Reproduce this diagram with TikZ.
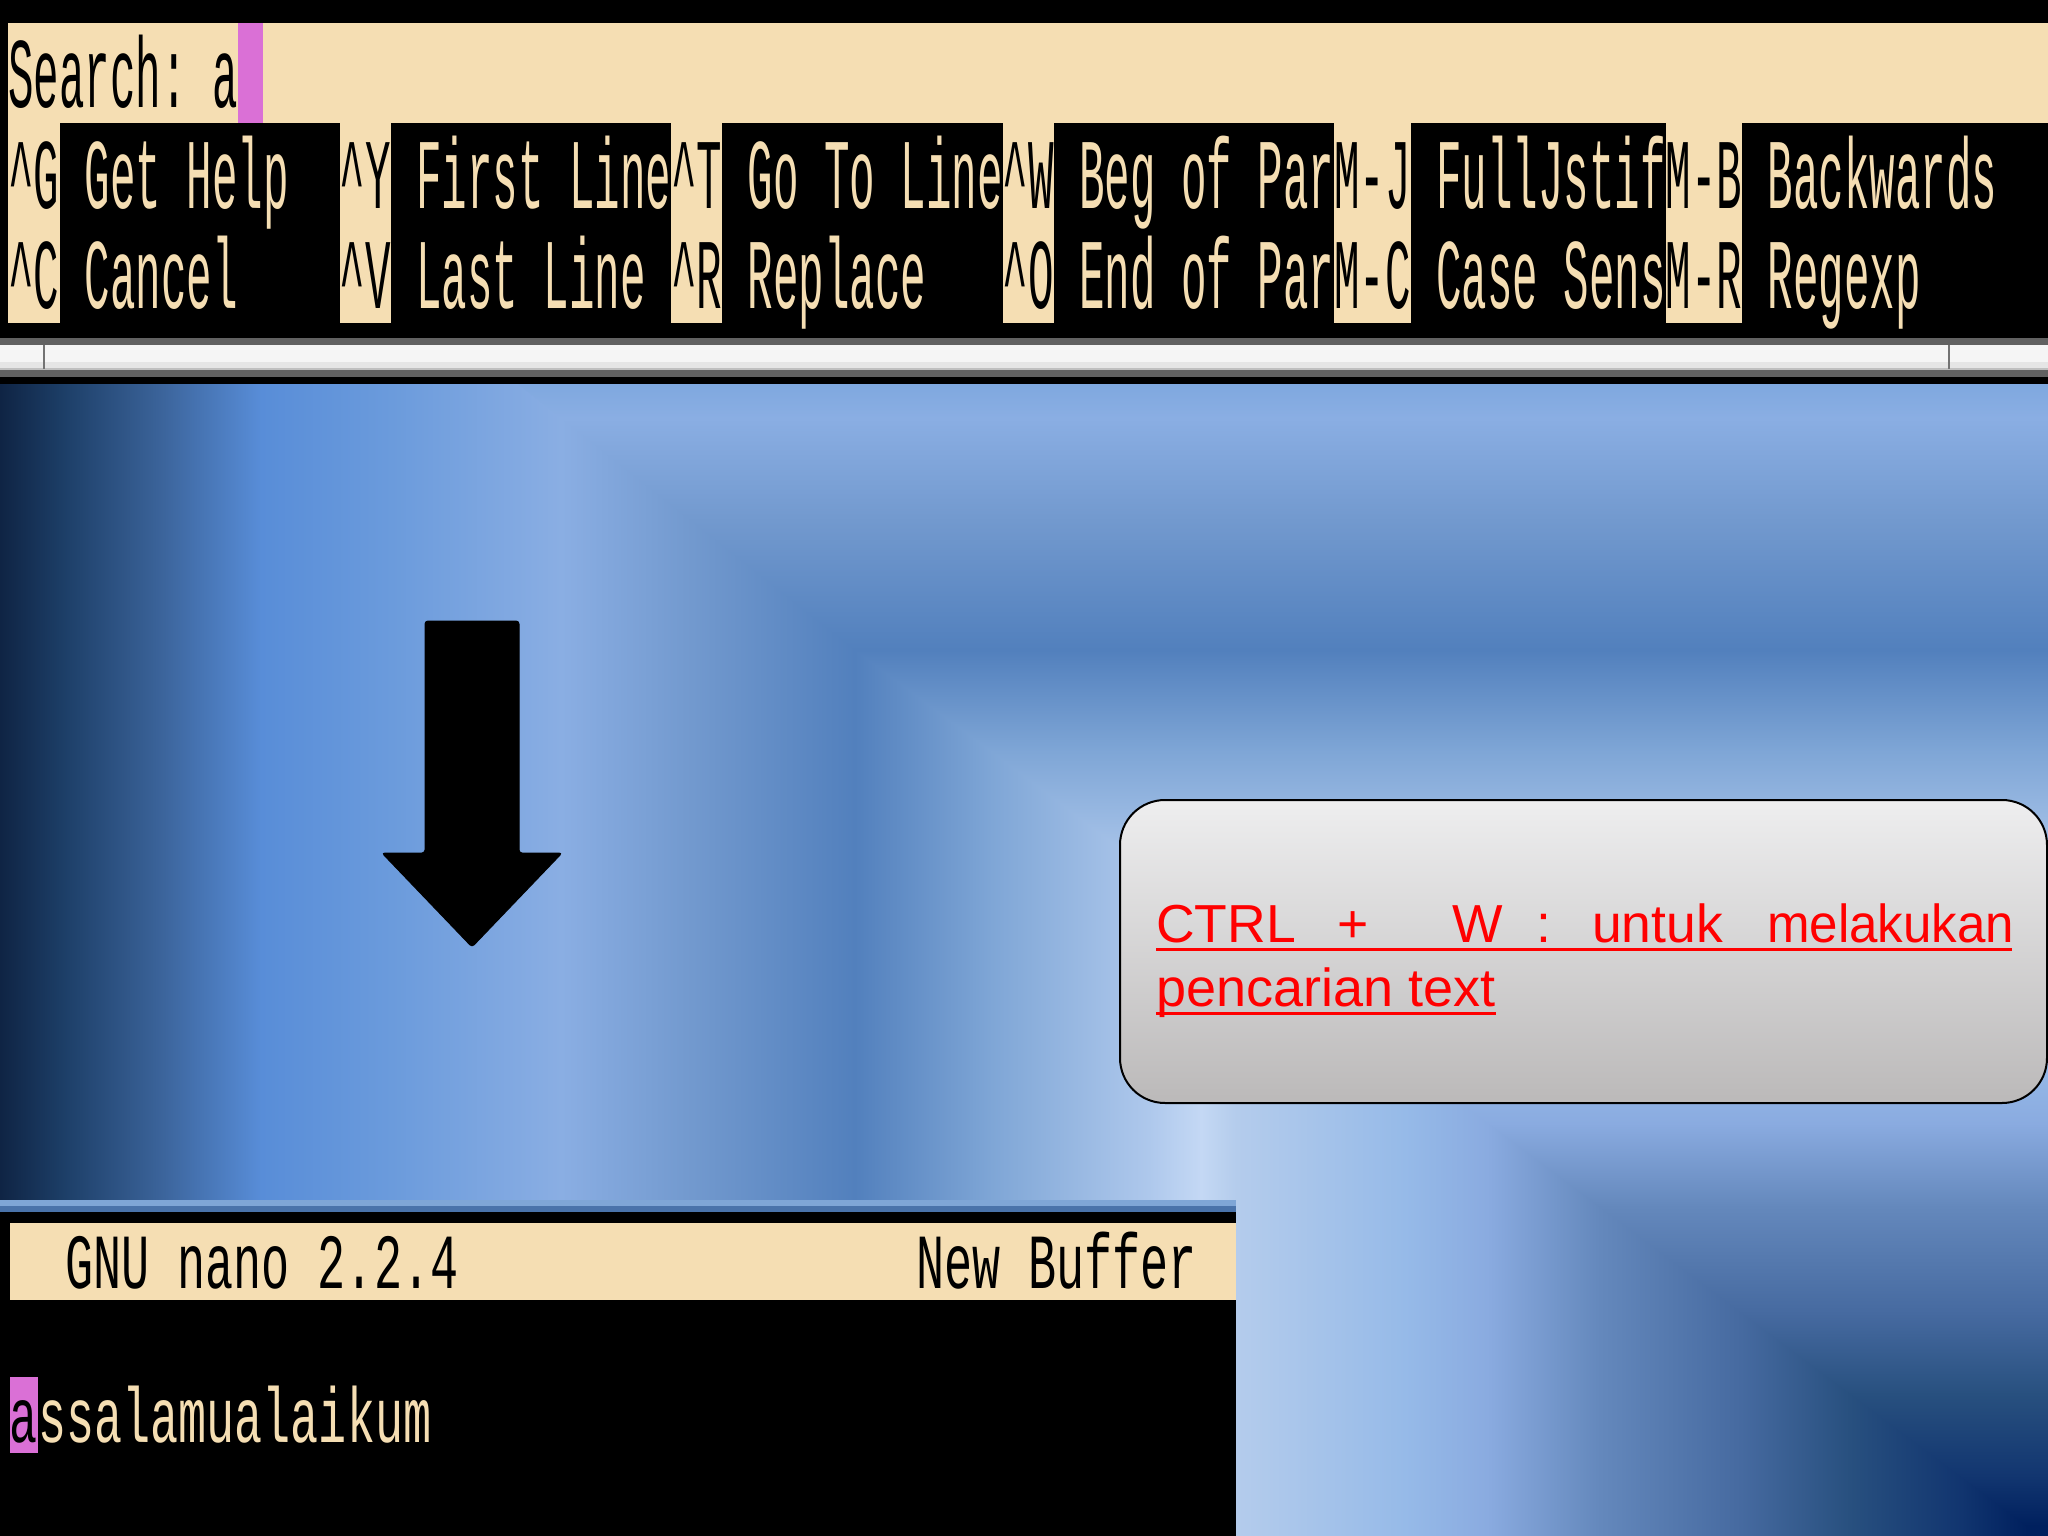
\documentclass[tikz,border=0pt]{standalone}
\usepackage{fontspec}
\usepackage{graphicx}
\newfontfamily\termfont{Liberation Mono}
\newfontfamily\notefont{Liberation Sans}
\definecolor{wheatc}{HTML}{F5DEB3}
\definecolor{orchidc}{HTML}{DA70D6}
\definecolor{notered}{HTML}{FF0000}
\definecolor{xa}{HTML}{0F2444}\definecolor{xb}{HTML}{1D3F68}\definecolor{xc}{HTML}{3A6298}
\definecolor{xd}{HTML}{588DD8}\definecolor{xe}{HTML}{6B9BDC}\definecolor{xf}{HTML}{8AAEE3}
\definecolor{xg}{HTML}{7299CE}\definecolor{xh}{HTML}{5280BD}\definecolor{xi}{HTML}{7FA6D6}
\definecolor{xj}{HTML}{AEC8EC}\definecolor{xk}{HTML}{C4D8F4}\definecolor{xl}{HTML}{B4CCEC}
\definecolor{xm}{HTML}{96BAE8}\definecolor{xn}{HTML}{8AABE0}\definecolor{xo}{HTML}{6488BC}
\definecolor{xp}{HTML}{466AA0}\definecolor{xq}{HTML}{28507F}\definecolor{xr}{HTML}{123670}
\definecolor{xs}{HTML}{00205E}
\definecolor{ya}{HTML}{7FA8DF}
\definecolor{boxtop}{HTML}{EEEEEF}\definecolor{boxbot}{HTML}{BBB9B9}
\pgfdeclarehorizontalshading{xband}{100bp}{color(0bp)=(xa);color(25bp)=(xa);color(26.59bp)=(xb);color(28.83bp)=(xc);color(31.37bp)=(xd);color(34.57bp)=(xe);color(38.70bp)=(xf);color(41.89bp)=(xg);color(45.87bp)=(xh);color(49.22bp)=(xi);color(53.05bp)=(xj);color(54.32bp)=(xk);color(55.18bp)=(xl);color(59.30bp)=(xm);color(61.30bp)=(xn);color(64.06bp)=(xo);color(67.50bp)=(xp);color(70.14bp)=(xq);color(72.78bp)=(xr);color(74.49bp)=(xs);color(100bp)=(xs)}
\pgfdeclareverticalshading{yband}{100bp}{color(0bp)=(xs);color(25bp)=(xs);color(25.33bp)=(xs);color(26.98bp)=(xr);color(29.62bp)=(xq);color(32.26bp)=(xp);color(35.71bp)=(xo);color(38.44bp)=(xn);color(40.46bp)=(xm);color(44.56bp)=(xl);color(45.41bp)=(xk);color(46.68bp)=(xj);color(50.52bp)=(xi);color(53.84bp)=(xh);color(58.04bp)=(xg);color(61.39bp)=(xf);color(62.50bp)=(ya);color(100bp)=(ya)}
\newcommand{\termbig}{\termfont\fontsize{100pt}{100pt}\selectfont\frenchspacing}
\newcommand{\termsmall}{\termfont\fontsize{78pt}{78pt}\selectfont\frenchspacing}
\newcommand{\notesize}{\notefont\fontsize{53.5pt}{60pt}\selectfont}
\tikzset{
  x=1pt,y=-1pt,
  bigterm/.style={anchor=base west,inner sep=0pt,font=\termbig,xscale=0.425},
  smallterm/.style={anchor=base west,inner sep=0pt,font=\termsmall,xscale=0.6},
  lighttxt/.style={text=wheatc},
  darktxt/.style={text=black},
  cream/.style={fill=wheatc,draw=none},
  cursorbox/.style={fill=orchidc,draw=none},
  notetxt/.style={anchor=base west,inner sep=0pt,font=\notesize,text=notered},
  noteline/.style={draw=notered,line width=2.8pt},
  bigarrow/.style={fill=black,draw=black,line width=1pt,rounded corners=3pt},
}
\begin{document}
\begin{tikzpicture}
\useasboundingbox (0,0) rectangle (2048,1536);
\fill[black] (0,0) rectangle (2048,1536);
% background
\begin{scope}
  \clip (0,384) rectangle (2048,1536);
  \shade[shading=xband] (0,0) rectangle (2048,1536);
  \begin{scope}
    \clip (518,384) -- (855,650) -- (2040,1536) -- (2048,1536) -- (2048,384) -- cycle;
    \shade[shading=yband] (0,0) rectangle (2048,1536);
  \end{scope}
\end{scope}
% top terminal
\fill[cream] (8,22.6) rectangle (2048,123);
\fill[cursorbox] (237.5,22.6) rectangle (263,123);
\fill[cream] (8,123) rectangle (60,322.6);
\fill[cream] (339.5,123) rectangle (391,322.6);
\fill[cream] (671,123) rectangle (722,322.6);
\fill[cream] (1002.5,123) rectangle (1054,322.6);
\fill[cream] (1334,123) rectangle (1411,322.6);
\fill[cream] (1665.5,123) rectangle (1742,322.6);
\node[bigterm,darktxt] (search) at (8,108) {Search: a};
\node[bigterm,darktxt] (kg) at (8,208) {\^{}G};
\node[bigterm,darktxt] (kc) at (8,308) {\^{}C};
\node[bigterm,lighttxt] (tg) at (84.5,208) {Get Help};
\node[bigterm,lighttxt] (tc) at (84.5,308) {Cancel};
\node[bigterm,darktxt] (ky) at (339.5,208) {\^{}Y};
\node[bigterm,darktxt] (kv) at (339.5,308) {\^{}V};
\node[bigterm,lighttxt] (ty) at (416,208) {First Line};
\node[bigterm,lighttxt] (tv) at (416,308) {Last Line};
\node[bigterm,darktxt] (kt) at (671,208) {\^{}T};
\node[bigterm,darktxt] (kr) at (671,308) {\^{}R};
\node[bigterm,lighttxt] (tt) at (747.5,208) {Go To Line};
\node[bigterm,lighttxt] (tr) at (747.5,308) {Replace};
\node[bigterm,darktxt] (kw) at (1002.5,208) {\^{}W};
\node[bigterm,darktxt] (ko) at (1002.5,308) {\^{}O};
\node[bigterm,lighttxt] (tw) at (1079,208) {Beg of Par};
\node[bigterm,lighttxt] (to) at (1079,308) {End of Par};
\node[bigterm,darktxt] (kj) at (1334,208) {M-J};
\node[bigterm,darktxt] (kmc) at (1334,308) {M-C};
\node[bigterm,lighttxt] (tj) at (1436,208) {FullJstif};
\node[bigterm,lighttxt] (tmc) at (1436,308) {Case Sens};
\node[bigterm,darktxt] (kb) at (1665.5,208) {M-B};
\node[bigterm,darktxt] (kmr) at (1665.5,308) {M-R};
\node[bigterm,lighttxt] (tb) at (1767.5,208) {Backwards};
\node[bigterm,lighttxt] (tmr) at (1767.5,308) {Regexp};
% window frame strip
\fill[black!62] (0,338) rectangle (2048,345);
\fill[white!96!black] (0,345) rectangle (2048,362);
\fill[black!10] (0,362) rectangle (2048,368);
\fill[black!25] (0,368) rectangle (2048,370);
\fill[black!62] (0,370) rectangle (2048,377);
\fill[black!55] (43,345) rectangle (45,369);
\fill[black!55] (1948,345) rectangle (1950,369);
% arrow
\fill[bigarrow] (425,621) -- (519,621) -- (519,853) -- (562,853) -- (472,947) -- (382,853) -- (425,853) -- cycle;
% note box
\path[draw=black,line width=2pt,rounded corners=45pt,top color=boxtop,bottom color=boxbot] (1120,800) rectangle (2047,1103);
\node[notetxt] (l1) at (1156,942) {\makebox[856pt][l]{\rlap{CTRL}\hspace*{181pt}\rlap{+}\hspace*{115pt}\rlap{W}\hspace*{84pt}\rlap{:}\hspace*{56pt}\rlap{untuk}\hspace*{175pt}\scalebox{0.955}[1]{melakukan}}};
\node[notetxt] (l2) at (1156,1006) {\scalebox{1.01}[1]{pencarian text}};
\draw[noteline] ([yshift=-7.5pt]l1.base west) -- ([yshift=-7.5pt]l1.base east);
\draw[noteline] ([yshift=-7.5pt]l2.base west) -- ([yshift=-7.5pt]l2.base east);
% bottom terminal
\fill[black] (0,1200) rectangle (1236,1536);
\fill[xi] (0,1200) rectangle (1236,1206);
\fill[xh!90!black] (0,1206) rectangle (1236,1212);
\fill[cream] (9.5,1223) rectangle (1236,1300);
\fill[cursorbox] (9.5,1377) rectangle (38,1453);
\node[smallterm,darktxt] (nano) at (65,1288) {GNU nano 2.2.4};
\node[smallterm,darktxt] (buffer) at (916,1288) {New Buffer};
\node[smallterm,darktxt] (cur) at (9.5,1442) {a};
\node[smallterm,lighttxt] (body) at (38,1442) {ssalamualaikum};
\end{tikzpicture}
\end{document}
